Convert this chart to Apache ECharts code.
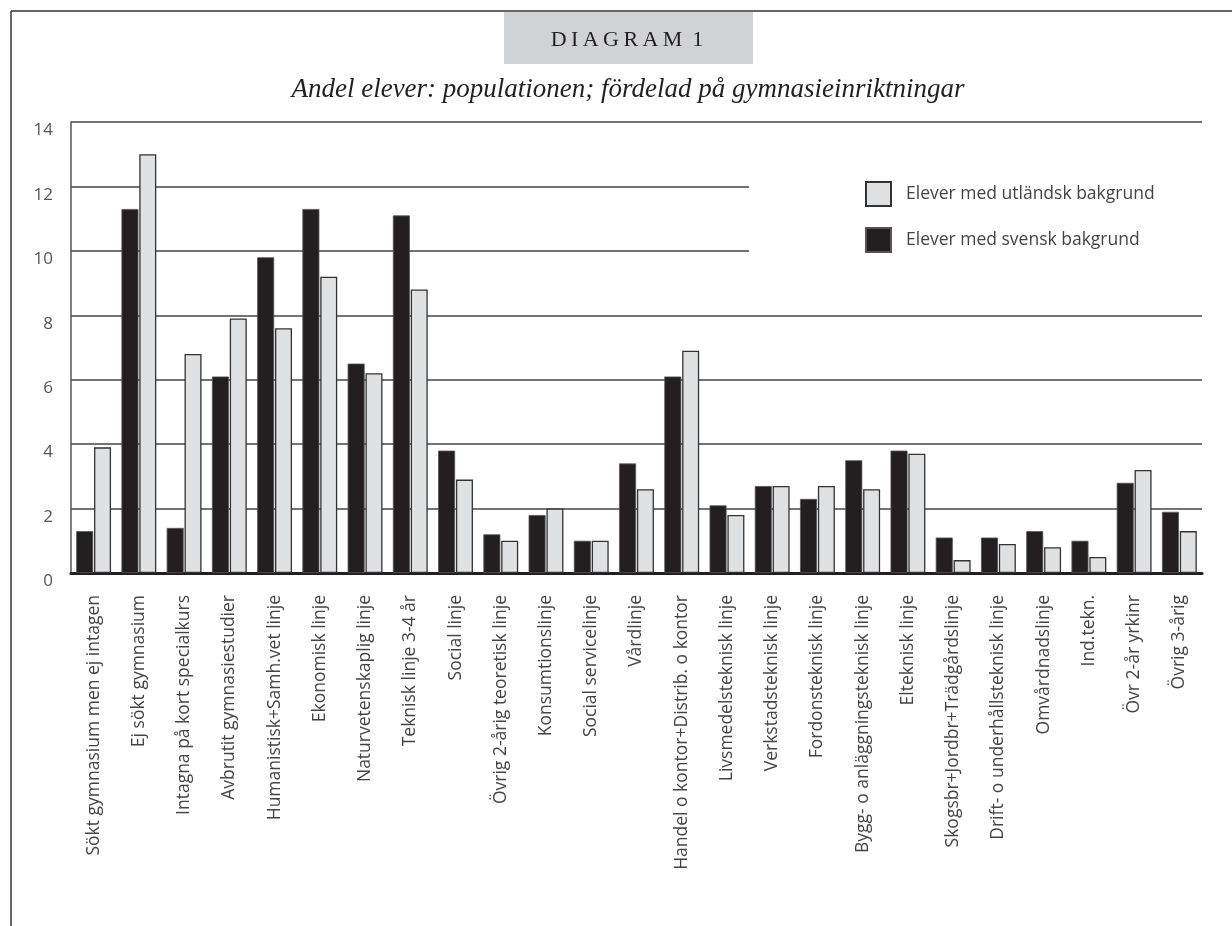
<!DOCTYPE html>
<html>
<head>
<meta charset="utf-8">
<script src="https://cdn.jsdelivr.net/npm/echarts@6/dist/echarts.min.js"></script>
<style>
  html, body { margin: 0; padding: 0; background: #fff; }
  #chart { width: 1232px; height: 926px; }
</style>
</head>
<body>
<div id="chart"></div>
<script>
// kategorier (gymnasieinriktningar)
var categories = [
  'Sökt gymnasium men ej intagen', 'Ej sökt gymnasium', 'Intagna på kort specialkurs',
  'Avbrutit gymnasiestudier', 'Humanistisk+Samh.vet linje', 'Ekonomisk linje',
  'Naturvetenskaplig linje', 'Teknisk linje 3-4 år', 'Social linje',
  'Övrig 2-årig teoretisk linje', 'Konsumtionslinje', 'Social servicelinje',
  'Vårdlinje', 'Handel o kontor+Distrib. o kontor', 'Livsmedelsteknisk linje',
  'Verkstadsteknisk linje', 'Fordonsteknisk linje', 'Bygg- o anläggningsteknisk linje',
  'Elteknisk linje', 'Skogsbr+Jordbr+Trädgårdslinje', 'Drift- o underhållsteknisk linje',
  'Omvårdnadslinje', 'Ind.tekn.', 'Övr 2-år yrkinr', 'Övrig 3-årig'
];
var svensk = [1.3, 11.3, 1.4, 6.1, 9.8, 11.3, 6.5, 11.1, 3.8, 1.2, 1.8, 1.0, 3.4,
              6.1, 2.1, 2.7, 2.3, 3.5, 3.8, 1.1, 1.1, 1.3, 1.0, 2.8, 1.9];
var utlandsk = [3.9, 13.0, 6.8, 7.9, 7.6, 9.2, 6.2, 8.8, 2.9, 1.0, 2.0, 1.0, 2.6,
                6.9, 1.8, 2.7, 2.7, 2.6, 3.7, 0.4, 0.9, 0.8, 0.5, 3.2, 1.3];
var yTicks = [0, 2, 4, 6, 8, 10, 12, 14];

var nameSv = 'Elever med svensk bakgrund';
var nameUt = 'Elever med utländsk bakgrund';
var sans = '"Open Sans", Lato, sans-serif';
var serif = '"Liberation Serif", "DejaVu Serif", serif';

var chart = echarts.init(document.getElementById('chart'));

chart.setOption({
  backgroundColor: '#fff',
  animation: false,
  grid: { left: 71, right: 30, top: 122, bottom: 353, containLabel: false },
  legend: {
    orient: 'vertical',
    left: 860,
    top: 176,
    itemWidth: 25,
    itemHeight: 24,
    itemGap: 20,
    icon: 'rect',
    data: [nameUt, nameSv],
    textStyle: { fontFamily: sans, fontSize: 17.5, color: '#444', padding: [0, 0, 0, 10] }
  },
  xAxis: {
    type: 'category',
    data: categories,
    axisLine: { lineStyle: { color: '#231f20', width: 3 } },
    axisTick: { inside: true, length: 10, lineStyle: { color: '#555', width: 1.5 } },
    axisLabel: {
      interval: 0, rotate: 90, margin: 22,
      fontFamily: sans, fontSize: 17.5, color: '#444',
      padding: [0, 0, 14, 0]
    },
    splitLine: { show: false }
  },
  yAxis: {
    type: 'value',
    min: yTicks[0],
    max: yTicks[yTicks.length - 1],
    interval: 2,
    axisLine: { show: true, lineStyle: { color: '#555', width: 1.5 } },
    axisTick: { show: false },
    axisLabel: {
      margin: 18, verticalAlign: 'top',
      fontFamily: sans, fontSize: 17, color: '#555'
    },
    splitLine: { lineStyle: { color: '#444', width: 1.5 } }
  },
  series: [
    {
      name: nameSv,
      type: 'bar',
      data: svensk,
      barWidth: 17,
      barGap: '5%',
      itemStyle: { color: '#231f20', borderColor: '#555', borderWidth: 0.8 }
    },
    {
      name: nameUt,
      type: 'bar',
      data: utlandsk,
      barWidth: 17,
      itemStyle: { color: '#e0e1e3', borderColor: '#333', borderWidth: 1.3 }
    }
  ],
  graphic: [
    // ram
    { type: 'line', shape: { x1: 11, y1: 11, x2: 1232, y2: 11 }, style: { stroke: '#333', lineWidth: 1.5 } },
    { type: 'line', shape: { x1: 11, y1: 11, x2: 11, y2: 926 }, style: { stroke: '#333', lineWidth: 1.5 } },
    // rubrikruta
    { type: 'rect', shape: { x: 504, y: 12, width: 249, height: 52 }, style: { fill: '#d1d2d4' } },
    {
      type: 'text', x: 627, y: 40,
      style: {
        text: 'D\u2009I\u2009A\u2009G\u2009R\u2009A\u2009M\u2009 1', fill: '#231f20', font: '22px ' + serif,
        align: 'center', verticalAlign: 'middle'
      }
    },
    {
      type: 'text', x: 628, y: 90,
      style: {
        text: 'Andel elever: populationen; fördelad på gymnasieinriktningar',
        fill: '#231f20', font: 'italic 27px ' + serif,
        align: 'center', verticalAlign: 'middle'
      }
    },
    // vit bakgrund bakom teckenförklaringen
    { type: 'rect', z: 3, shape: { x: 749, y: 140, width: 460, height: 150 }, style: { fill: '#fff' } }
  ]
});
</script>
</body>
</html>
